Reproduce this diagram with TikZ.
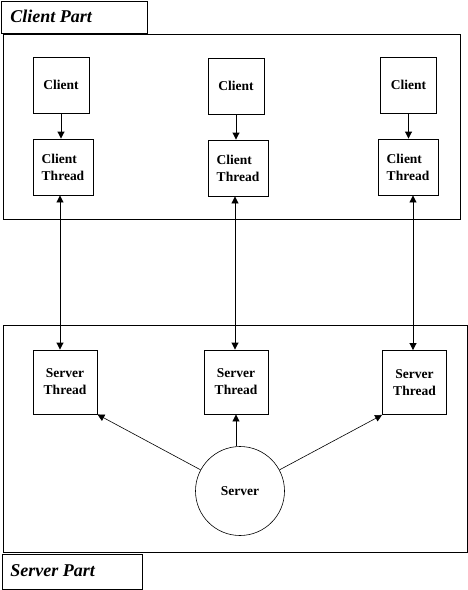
\documentclass[tikz,border=0pt]{standalone}
\usepackage{fontspec}
\setmainfont{Liberation Serif}
\usepackage{tikz}
\usetikzlibrary{arrows.meta,positioning,calc}

\begin{document}
\begin{tikzpicture}[x=1pt, y=-1pt, line width=0.9pt,
  every node/.style={font=\fontsize{13.5}{17}\selectfont\bfseries, inner sep=0pt},
  box/.style={draw, minimum width=56pt, minimum height=56pt},
  partbox/.style={draw, anchor=north west, inner sep=0pt},
  partlabel/.style={font=\fontsize{18}{20}\selectfont\bfseries\itshape, anchor=west},
  arr/.style={-{Triangle[length=7pt,width=7pt]}},
  dbl/.style={{Triangle[length=7pt,width=7pt]}-{Triangle[length=7pt,width=7pt]}}]
\useasboundingbox (0,0) rectangle (468,590);

% client part
\node[partbox, minimum width=146pt, minimum height=32pt] (clientlbl) at (0.5,0.5) {};
\node[partlabel] (clienttxt) at (10,16) {Client Part};
\node[partbox, minimum width=457.5pt, minimum height=185pt] (clientpart) at (2.5,34) {};

\node[box] (c1) at (61,85) {Client};
\node[box] (c2) at (236,86) {Client};
\node[box] (c3) at (408.5,85) {Client};
\node[box, minimum width=60pt, align=left] (ct1) at (63,167) {Client\\Thread};
\node[box, minimum width=60pt, align=left] (ct2) at (238,168) {Client\\Thread};
\node[box, minimum width=60pt, align=left] (ct3) at (408,167) {Client\\Thread};

% server part
\node[partbox, minimum width=464pt, minimum height=227pt] (serverpart) at (3,325) {};
\node[partbox, minimum width=140pt, minimum height=35pt] (serverlbl) at (2,554) {};
\node[partlabel] (servertxt) at (10,571) {Server Part};

\node[box, minimum width=64pt, minimum height=64pt, align=center] (st1) at (65,382) {Server\\Thread};
\node[box, minimum width=64pt, minimum height=64pt, align=center] (st2) at (236,382) {Server\\Thread};
\node[box, minimum width=64pt, minimum height=64pt, align=center] (st3) at (414.5,382.5) {Server\\Thread};
\node[draw, circle, line width=0.6pt, minimum size=89pt] (srv) at (240,491) {Server};

% connectors
\draw[arr] (c1.south) -- (c1.south |- ct1.north);
\draw[arr] (c2.south) -- (c2.south |- ct2.north);
\draw[arr] (c3.south) -- (c3.south |- ct3.north);

\draw[dbl] ($(ct1.south)+(-3,0)$) -- ($(ct1.south |- st1.north)+(-3,0)$);
\draw[dbl] ($(ct2.south)+(-3,0)$) -- ($(ct2.south |- st2.north)+(-3,0)$);
\draw[dbl] ($(ct3.south)+(5,0)$) -- ($(ct3.south |- st3.north)+(5,0)$);

\draw[arr, line width=0.6pt] (srv) -- (st1.south east);
\draw[arr] (srv.north -| st2.south) -- (st2.south);
\draw[arr, line width=0.6pt] (srv) -- (st3.south west);
\end{tikzpicture}
\end{document}
